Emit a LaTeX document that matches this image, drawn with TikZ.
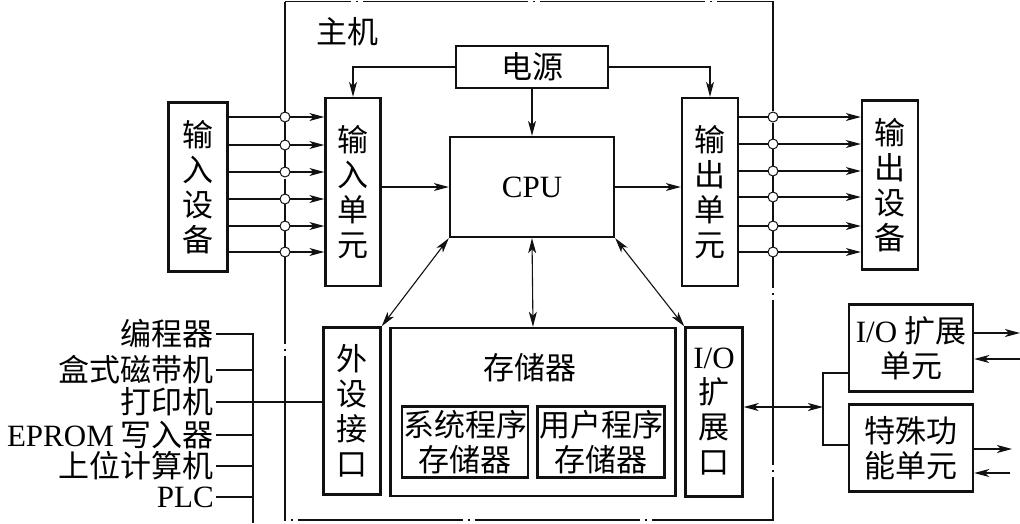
\documentclass[tikz,border=0pt]{standalone}
\usepackage{fontspec}
\setmainfont{Liberation Serif}
\newfontfamily\cjk{Noto Sans CJK SC}
\usepackage{tikz}
\usetikzlibrary{arrows.meta,positioning}
\definecolor{InkBlack}{HTML}{111111}

\begin{document}
\begin{tikzpicture}[
  x=1pt,y=-1pt,
  box/.style={draw=InkBlack,line width=2.4pt,inner sep=0pt,align=center,
    font=\cjk\fontsize{31}{35}\selectfont},
  arr/.style={-{Stealth[length=15pt,width=8pt,inset=4pt]},InkBlack,line width=1.1pt},
  biarr/.style={{Stealth[length=15pt,width=8pt,inset=4pt]}-{Stealth[length=15pt,width=8pt,inset=4pt]},
    InkBlack,line width=1.1pt},
  wire/.style={InkBlack,line width=1.1pt},
  hostframe/.style={InkBlack,line width=1.2pt,dash pattern=on 165pt off 5pt on 2pt off 5pt},
  jn/.style={draw=InkBlack,fill=white,line width=1pt},
  lst/.style={font=\cjk\fontsize{31}{32}\selectfont,anchor=east,inner sep=2pt}]
  \useasboundingbox (0,0) rectangle (1020,523);
  \draw[hostframe] (285,1.5) rectangle (773,520);
  \node[font=\cjk\fontsize{31}{35}\selectfont] (host) at (347,32) {主机};
  % Host blocks
  \node[box,minimum width=152,minimum height=42] (power) at (532,67) {电源};
  \node[box,minimum width=164,minimum height=100] (cpu) at (532,187) {\textrm{CPU}};
  \node[box,minimum width=55,minimum height=188] (inunit) at (353,192) {输\\入\\单\\元};
  \node[box,minimum width=56,minimum height=188] (outunit) at (710,192) {输\\出\\单\\元};
  \node[box,minimum width=57,minimum height=167] (periph) at (352,411) {外\\设\\接\\口};
  \node[box,minimum width=285,minimum height=168] (mem) at (533,412) {};
  \node[font=\cjk\fontsize{31}{35}\selectfont] (memlbl) at (530,368) {存储器};
  \node[box,minimum width=126,minimum height=71] (sysmem) at (465,442) {系统程序\\存储器};
  \node[box,minimum width=127,minimum height=71] (usrmem) at (601,442) {用户程序\\存储器};
  \node[box,minimum width=57,minimum height=169] (ioport) at (714,412) {\textrm{I/O}\\扩\\展\\口};
  % Outside blocks
  \node[box,minimum width=59,minimum height=169] (indev) at (198,187) {输\\入\\设\\备};
  \node[box,minimum width=56,minimum height=169] (outdev) at (890,185) {输\\出\\设\\备};
  \node[box,minimum width=124,minimum height=87] (ioext) at (911,348) {\textrm{I/O} 扩展\\单元};
  \node[box,minimum width=124,minimum height=87] (special) at (911,448) {特殊功\\能单元};
  % Power and CPU
  \draw[arr] (power.west) -| (inunit.north);
  \draw[arr] (power.east) -| (outunit.north);
  \draw[arr] (power.south) -- (cpu.north);
  \draw[arr] (inunit.east |- cpu.west) -- (cpu.west);
  \draw[arr] (cpu.east) -- (cpu.east -| outunit.west);
  \draw[biarr] (cpu.south west) -- (periph.north east);
  \draw[biarr] (cpu.south) -- (mem.north);
  \draw[biarr] (cpu.south east) -- (ioport.north west);
  % I/O lines
  \foreach \y in {117,145,172,199,226,252} {
    \draw[arr] (indev.east |- 0,\y) -- (inunit.west |- 0,\y);
    \draw[jn] (285,\y) circle[radius=5pt];
  }
  \foreach \y in {117,144,171,197,226,252} {
    \draw[arr] (outunit.east |- 0,\y) -- (outdev.west |- 0,\y);
    \draw[jn] (773,\y) circle[radius=5pt];
  }
  % Expansion bus
  \coordinate (busmid) at (823,407);
  \coordinate (bustop) at (823,373);
  \coordinate (busbot) at (823,445);
  \draw[biarr] (ioport.east |- busmid) -- (busmid);
  \draw[wire] (ioext.west |- bustop) -- (bustop) -- (busbot) -- (special.west |- busbot);
  \coordinate (extA) at (1020,333);
  \coordinate (extB) at (1020,359);
  \coordinate (extC) at (1012,449);
  \coordinate (extD) at (1010,473);
  \draw[arr] (ioext.east |- extA) -- (extA);
  \draw[arr] (extB) -- (ioext.east |- extB);
  \draw[arr] (special.east |- extC) -- (extC);
  \draw[arr] (extD) -- (special.east |- extD);
  % Peripherals
  \node[lst] (prog) at (216,334) {编程器};
  \node[lst] (tape) at (216,370) {盒式磁带机};
  \node[lst] (prn) at (216,402) {打印机};
  \node[lst] (eprom) at (216,435) {\textrm{EPROM} 写入器};
  \node[lst] (upper) at (216,466) {上位计算机};
  \node[lst] (plc) at (216,497) {\textrm{PLC}};
  \coordinate (trunk) at (253,523);
  \draw[wire] (prog.east) -| (trunk);
  \foreach \n in {tape,eprom,upper,plc}
    \draw[wire] (\n.east) -- (\n.east -| trunk);
  \draw[wire] (prn.east) -- (prn.east -| periph.west);
\end{tikzpicture}
\end{document}
